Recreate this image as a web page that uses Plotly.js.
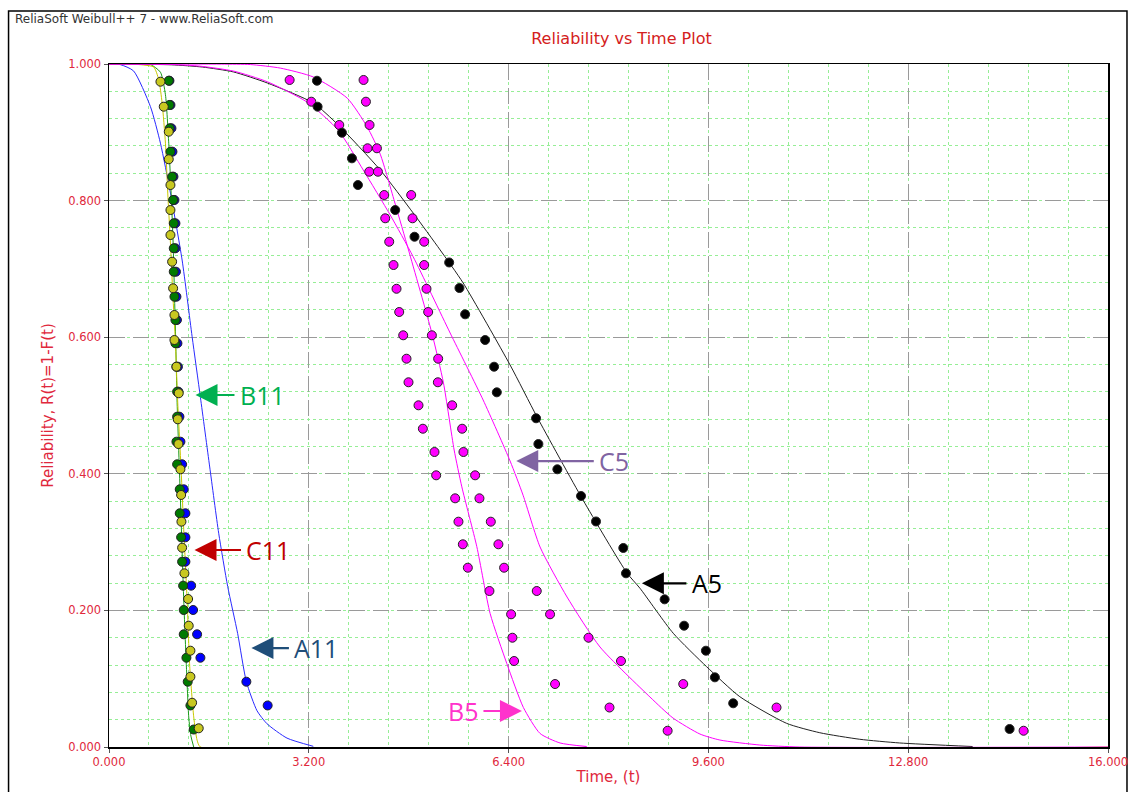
<!DOCTYPE html>
<html>
<head>
<meta charset="utf-8">
<script src="https://cdn.plot.ly/plotly-3.0.1.min.js"></script>
<style>html,body{margin:0;padding:0;background:#fff;}#chart{width:1134px;height:792px;}</style>
</head>
<body>
<div id="chart"></div>
<script>
// ---------- Data (time in thousands, reliability R(t)) ----------
// A5 (black)
const A5_T = [3.331, 3.341, 3.731, 3.891, 3.987, 4.584, 4.893, 5.448, 5.613, 5.704, 6.024, 6.168, 6.211, 6.840, 6.877, 7.181, 7.560, 7.800, 8.237, 8.280, 8.899, 9.211, 9.560, 9.704, 9.997, 14.424];
const A5_R = [0.9755, 0.9375, 0.8994, 0.8619, 0.8228, 0.7862, 0.7471, 0.7094, 0.6720, 0.6335, 0.5959, 0.5568, 0.5193, 0.4813, 0.4436, 0.4066, 0.3675, 0.3302, 0.2914, 0.2543, 0.2162, 0.1776, 0.1410, 0.1020, 0.0640, 0.0264];
const A5_FIT_T = [0, 1.000, 1.500, 1.992, 2.536, 3.272, 3.672, 4.344, 4.872, 5.304, 5.672, 6.424, 6.856, 7.592, 8.296, 8.504, 9.037, 9.571, 10.104, 10.851, 11.384, 12.024, 12.664, 13.832];
const A5_FIT_R = [1, 0.9988, 0.9955, 0.9884, 0.9722, 0.9429, 0.9107, 0.8448, 0.7818, 0.7277, 0.6794, 0.5593, 0.4832, 0.3616, 0.2548, 0.2324, 0.1665, 0.1176, 0.0736, 0.0347, 0.0209, 0.0113, 0.0059, 0.0007];

// B5 (magenta)
const B5_T = [2.893, 3.240, 3.688, 4.141, 4.168, 4.408, 4.424, 4.488, 4.557, 4.605, 4.648, 4.712, 4.765, 4.797, 4.957, 5.027, 5.213, 5.240, 5.544, 5.597, 5.667, 5.747, 6.093, 6.440, 6.461, 6.488, 7.144, 8.016, 8.947];
const B5_R = [0.9766, 0.9448, 0.9107, 0.8766, 0.8423, 0.8082, 0.7741, 0.7398, 0.7057, 0.6709, 0.6369, 0.6028, 0.5685, 0.5340, 0.5003, 0.4660, 0.4319, 0.3978, 0.3641, 0.3299, 0.2968, 0.2625, 0.2284, 0.1943, 0.1600, 0.1259, 0.0922, 0.0578, 0.0238];
const B5_FIT_T = [0, 1.800, 2.264, 2.744, 3.272, 3.816, 4.136, 4.344, 4.584, 4.797, 5.171, 5.357, 5.528, 5.651, 5.891, 6.104, 6.371, 6.637, 6.904, 7.224, 7.651];
const B5_FIT_R = [1, 0.9998, 0.9992, 0.994, 0.981, 0.950, 0.9078, 0.868, 0.795, 0.7277, 0.6061, 0.5329, 0.4348, 0.3809, 0.2933, 0.1955, 0.1223, 0.0578, 0.0198, 0.0059, 0.0007];

// C5 (magenta)
const C5_T = [4.077, 4.115, 4.173, 4.291, 4.307, 4.840, 4.861, 5.048, 5.048, 5.085, 5.112, 5.171, 5.272, 5.267, 5.496, 5.656, 5.677, 5.864, 5.933, 6.115, 6.237, 6.328, 6.851, 7.064, 7.680, 8.200, 9.197, 10.691, 14.648];
const C5_R = [0.9766, 0.9448, 0.9107, 0.8766, 0.8423, 0.8082, 0.7741, 0.7398, 0.7057, 0.6709, 0.6369, 0.6028, 0.5685, 0.5340, 0.5003, 0.4660, 0.4319, 0.3978, 0.3641, 0.3299, 0.2968, 0.2625, 0.2284, 0.1943, 0.1600, 0.1259, 0.0922, 0.0578, 0.0238];
const C5_FIT_T = [0, 1.000, 1.464, 2.000, 2.536, 3.176, 3.672, 4.072, 4.504, 4.872, 5.464, 5.992, 6.424, 6.632, 6.904, 7.336, 7.864, 8.664, 9.032, 9.464, 9.784, 10.424, 11.064, 16.0];
const C5_FIT_R = [1, 0.9993, 0.9968, 0.9895, 0.974, 0.944, 0.9030, 0.8448, 0.7789, 0.7177, 0.6061, 0.5081, 0.4187, 0.3686, 0.2928, 0.2196, 0.1464, 0.0732, 0.0425, 0.0190, 0.0102, 0.0029, 0, 0];

// A11 (blue)
const A11_T = [0.968, 0.984, 1.000, 1.016, 1.032, 1.048, 1.064, 1.064, 1.072, 1.080, 1.088, 1.096, 1.104, 1.112, 1.128, 1.144, 1.171, 1.197, 1.224, 1.224, 1.224, 1.315, 1.347, 1.411, 1.464, 2.200, 2.541];
const A11_R = [0.9755, 0.9400, 0.9059, 0.8716, 0.8350, 0.8009, 0.7668, 0.7302, 0.6959, 0.6593, 0.6252, 0.5911, 0.5568, 0.5202, 0.4836, 0.4470, 0.4139, 0.3773, 0.3422, 0.3070, 0.2713, 0.2362, 0.2006, 0.1650, 0.1307, 0.0956, 0.0608];
const A11_FIT_T = [0, 0.184, 0.392, 0.664, 0.824, 0.984, 1.171, 1.331, 1.464, 1.613, 1.757, 1.901, 2.061, 2.200, 2.371, 2.531, 2.851, 3.272];
const A11_FIT_R = [1, 0.999, 0.990, 0.9375, 0.884, 0.811, 0.713, 0.601, 0.512, 0.410, 0.313, 0.235, 0.166, 0.0956, 0.053, 0.034, 0.013, 0.001];

// B11 (green)
const B11_T = [0.957, 0.968, 0.973, 0.984, 1.011, 1.027, 1.037, 1.037, 1.037, 1.048, 1.064, 1.064, 1.080, 1.091, 1.091, 1.080, 1.091, 1.133, 1.133, 1.155, 1.171, 1.187, 1.197, 1.197, 1.240, 1.261, 1.304, 1.357];
const B11_R = [0.9755, 0.9400, 0.9059, 0.8716, 0.8350, 0.8009, 0.7668, 0.7302, 0.6959, 0.6593, 0.6252, 0.5911, 0.5568, 0.5202, 0.4836, 0.4470, 0.4139, 0.3773, 0.3422, 0.3070, 0.2713, 0.2362, 0.2006, 0.1650, 0.1307, 0.0956, 0.0608, 0.0256];
const B11_FIT_T = [0, 0.504, 0.664, 0.824, 0.904, 0.957, 0.995, 1.027, 1.048, 1.069, 1.091, 1.144, 1.197, 1.240, 1.277, 1.312, 1.357];
const B11_FIT_R = [1, 1, 0.9993, 0.988, 0.955, 0.884, 0.811, 0.738, 0.665, 0.592, 0.504, 0.362, 0.215, 0.117, 0.044, 0.016, 0];

// C11 (yellow)
const C11_T = [0.824, 0.877, 0.957, 0.957, 0.984, 0.984, 0.984, 1.011, 1.027, 1.048, 1.048, 1.080, 1.117, 1.101, 1.112, 1.144, 1.155, 1.160, 1.171, 1.208, 1.267, 1.277, 1.304, 1.304, 1.331, 1.437];
const C11_R = [0.9741, 0.9375, 0.9009, 0.8605, 0.8228, 0.7862, 0.7496, 0.7105, 0.6716, 0.6325, 0.5959, 0.5568, 0.5179, 0.4798, 0.4436, 0.4066, 0.3690, 0.3299, 0.2918, 0.2543, 0.2167, 0.1776, 0.1410, 0.1029, 0.0648, 0.0274];
const C11_FIT_T = [0, 0.344, 0.557, 0.717, 0.797, 0.851, 0.904, 0.941, 0.984, 1.021, 1.064, 1.101, 1.155, 1.197, 1.251, 1.293, 1.357, 1.411, 1.464, 16.0];
const C11_FIT_R = [1, 1, 0.9985, 0.9956, 0.977, 0.943, 0.884, 0.811, 0.738, 0.665, 0.592, 0.504, 0.406, 0.318, 0.215, 0.118, 0.044, 0.010, 0, 0];

// Axis ticks
const X_TICKS = [0, 3.2, 6.4, 9.6, 12.8, 16.0];
const Y_TICKS = [0, 0.2, 0.4, 0.6, 0.8, 1.0];

// ---------- Styling ----------
const COL = {A11:'#2a2aff', B11:'#1a9a1a', C11:'#c8c800', A5:'#222222', B5:'#ff00ff', C5:'#ff00ff'};
const PCOL = {A11:'#0000ff', B11:'#007a00', C11:'#c8c820', A5:'#000000', B5:'#ff00ff', C5:'#ff00ff'};

function line(t, r, c) {
  return {x:t, y:r, type:'scatter', mode:'lines', line:{color:c, width:1, shape:'spline', smoothing:0.6}, hoverinfo:'skip', showlegend:false};
}
function pts(t, r, c) {
  return {x:t, y:r, type:'scatter', mode:'markers', marker:{color:c, size:9, line:{color:'#222', width:1}}, showlegend:false};
}

const traces = [
  line(A11_FIT_T, A11_FIT_R, COL.A11),
  line(B11_FIT_T, B11_FIT_R, COL.B11),
  line(C11_FIT_T, C11_FIT_R, COL.C11),
  line(A5_FIT_T, A5_FIT_R, COL.A5),
  line(C5_FIT_T, C5_FIT_R, COL.C5),
  line(B5_FIT_T, B5_FIT_R, COL.B5),
  pts(B5_T, B5_R, PCOL.B5),
  pts(C5_T, C5_R, PCOL.C5),
  pts(A5_T, A5_R, PCOL.A5),
  pts(A11_T, A11_R, PCOL.A11),
  pts(B11_T, B11_R, PCOL.B11),
  pts(C11_T, C11_R, PCOL.C11)
];

const RED = '#e0283c';
const tickFont = {family:'DejaVu Sans', size:11.5, color:RED};

function label(x, y, ax, txt, c) {
  return {x:x, y:y, xref:'x', yref:'y', ax:ax, ay:0, text:txt, showarrow:true,
    arrowhead:2, arrowsize:2, arrowwidth:2.2, arrowcolor:c, borderpad:5,
    font:{family:'Open Sans', size:25, color:c}};
}

const layout = {
  width:1134, height:792,
  margin:{l:108.5, r:25.5, t:64, b:45},
  paper_bgcolor:'#ffffff', plot_bgcolor:'#ffffff',
  title:{text:'Reliability vs Time Plot', font:{family:'DejaVu Sans', size:16, color:'#d42020'},
    x:0.513, xref:'paper', xanchor:'center', y:1-38/792, yref:'container', yanchor:'middle'},
  xaxis:{range:[0,16], tickvals:X_TICKS, tickformat:'.3f', tickfont:tickFont,
    showgrid:true, gridcolor:'#9a9a9a', gridwidth:1.3, griddash:'16px,8px',
    minor:{dtick:0.64, showgrid:true, gridcolor:'#96ee96', gridwidth:1, griddash:'3px,3px'},
    showline:true, mirror:true, linecolor:'#000', linewidth:1.5, zeroline:false,
    ticks:'outside', ticklen:4, tickcolor:'#555', layer:'below traces',
    title:{text:'Time, (t)', font:{family:'DejaVu Sans', size:15, color:RED}, standoff:3}},
  yaxis:{range:[0,1], tickvals:Y_TICKS, tickformat:'.3f', tickfont:tickFont,
    showgrid:true, gridcolor:'#9a9a9a', gridwidth:1.3, griddash:'16px,8px',
    minor:{dtick:0.04, showgrid:true, gridcolor:'#96ee96', gridwidth:1, griddash:'3px,3px'},
    showline:true, mirror:true, linecolor:'#000', linewidth:1.5, zeroline:false,
    ticks:'outside', ticklen:4, tickcolor:'#555', layer:'below traces',
    title:{text:'Reliability, R(t)=1-F(t)', font:{family:'DejaVu Sans', size:15, color:RED}, standoff:11}},
  shapes:[
    {type:'rect', xref:'paper', yref:'paper', x0:(8-108.5)/999.5, x1:(1127-108.5)/999.5, y0:(747-800)/683, y1:(747-11)/683,
     line:{color:'#000', width:1.5}, fillcolor:'rgba(0,0,0,0)', layer:'below'}
  ],
  annotations:[
    {xref:'paper', yref:'paper', x:(12-108.5)/999.5, y:(747-19)/683, xanchor:'left', yanchor:'middle', showarrow:false,
     text:'ReliaSoft Weibull++ 7 - www.ReliaSoft.com', font:{family:'DejaVu Sans', size:12, color:'#333333'}},
    label(1.385, 0.5154, 67, 'B11', '#00b050'),
    label(1.369, 0.2884, 74, 'C11', '#c00000'),
    label(2.281, 0.1449, 65, 'A11', '#1f4e79'),
    label(6.523, 0.4187, 98, 'C5', '#8064a2'),
    label(8.535, 0.2397, 65, 'A5', '#000000'),
    label(6.614, 0.0527, -59, 'B5', '#ff33cc')
  ]
};

Plotly.newPlot('chart', traces, layout, {displayModeBar:false, staticPlot:true});
</script>
</body>
</html>
